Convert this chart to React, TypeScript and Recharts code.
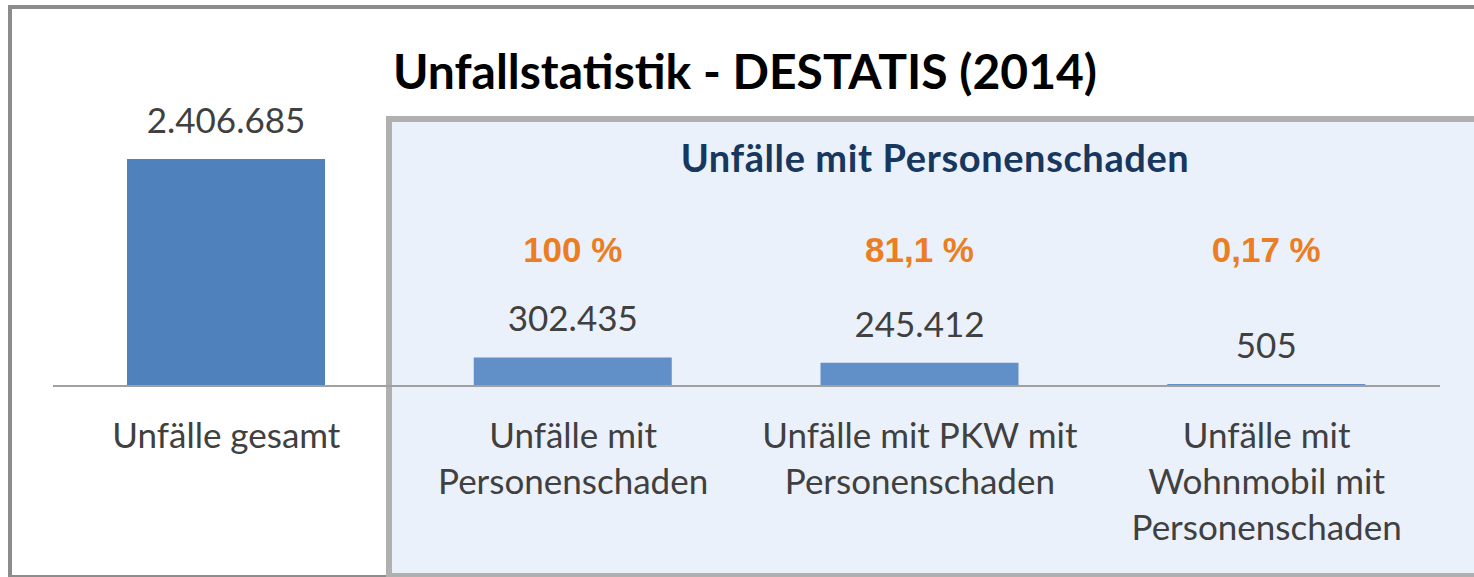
import { BarChart, Bar, XAxis, YAxis, Cell, LabelList } from "recharts";

const categories = [
  ["Unfälle gesamt"],
  ["Unfälle mit", "Personenschaden"],
  ["Unfälle mit PKW mit", "Personenschaden"],
  ["Unfälle mit", "Wohnmobil mit", "Personenschaden"],
];
const accidents = [2406685, 302435, 245412, 505];
const shares = ["", "100 %", "81,1 %", "0,17 %"];
const barColors = ["#4F81BD", "#6190C9", "#6190C9", "#6190C9"];

const data = categories.map((lines, i) => ({
  name: lines.join(" "),
  lines,
  value: accidents[i],
  share: shares[i],
}));

const fmt = (v: number) => String(v).replace(/\B(?=(\d{3})+(?!\d))/g, ".");

const FONT = "Lato, 'Open Sans', sans-serif";
const PCT_Y = 262;

const CategoryTick = ({ x, y, payload }: any) => {
  const lines = categories[payload.index] || [payload.value];
  return (
    <text x={x} y={y} textAnchor="middle" fill="#404040" fontFamily={FONT} fontSize={35}>
      {lines.map((l, i) => (
        <tspan key={i} x={x} dy={i === 0 ? 54 : 46}>
          {l}
        </tspan>
      ))}
    </text>
  );
};

const ShareLabel = ({ x, width, index }: any) => {
  const s = shares[index];
  if (!s) return null;
  return (
    <text
      x={x + width / 2}
      y={PCT_Y}
      textAnchor="middle"
      fill="#EB7D22"
      fontFamily="'Liberation Sans', Arial, sans-serif"
      fontWeight="bold"
      fontSize={35}
    >
      {s}
    </text>
  );
};

export default function App() {
  return (
    <div style={{ position: "absolute", left: 0, top: 0, width: 1474, height: 577, overflow: "hidden", background: "#fff" }}>
      {/* outer frame */}
      <div
        style={{
          position: "absolute",
          left: 8,
          top: 5,
          width: 1500,
          height: 566,
          border: "4px solid #8C8C8C",
          borderRight: "none",
        }}
      />
      {/* highlighted panel */}
      <div
        style={{
          position: "absolute",
          left: 386,
          top: 116,
          width: 1200,
          height: 451,
          background: "#EAF1FB",
          border: "6px solid #B0B0AE",
          borderRight: "none",
        }}
      />
      <div
        style={{
          position: "absolute",
          left: 0,
          width: 1490,
          top: 42,
          textAlign: "center",
          fontFamily: FONT,
          fontWeight: "bold",
          fontSize: 48,
          color: "#000",
          lineHeight: "58px",
        }}
      >
        Unfallstatistik - DESTATIS (2014)
      </div>
      <div
        style={{
          position: "absolute",
          left: 386,
          width: 1098,
          top: 134,
          textAlign: "center",
          fontFamily: FONT,
          fontWeight: "bold",
          fontSize: 38,
          letterSpacing: 0.6,
          color: "#17375E",
          lineHeight: "46px",
        }}
      >
        Unfälle mit Personenschaden
      </div>
      <div style={{ position: "absolute", left: 0, top: 0 }}>
        <BarChart
          width={1474}
          height={577}
          data={data}
          margin={{ top: 56, right: 34, left: 53, bottom: 41 }}
        >
          <XAxis
            dataKey="name"
            height={150}
            interval={0}
            axisLine={{ stroke: "#A0A0A0", strokeWidth: 2 }}
            tickLine={false}
            tick={<CategoryTick />}
          />
          <YAxis hide domain={[0, 3500000]} />
          <Bar dataKey="value" barSize={198} minPointSize={2} isAnimationActive={false}>
            {data.map((d, i) => (
              <Cell key={d.name} fill={barColors[i]} />
            ))}
            <LabelList
              dataKey="value"
              position="top"
              offset={26}
              formatter={(v: any) => fmt(Number(v))}
              fill="#404040"
              fontFamily={FONT}
              fontSize={35}
            />
            <LabelList dataKey="share" content={<ShareLabel />} />
          </Bar>
        </BarChart>
      </div>
    </div>
  );
}
